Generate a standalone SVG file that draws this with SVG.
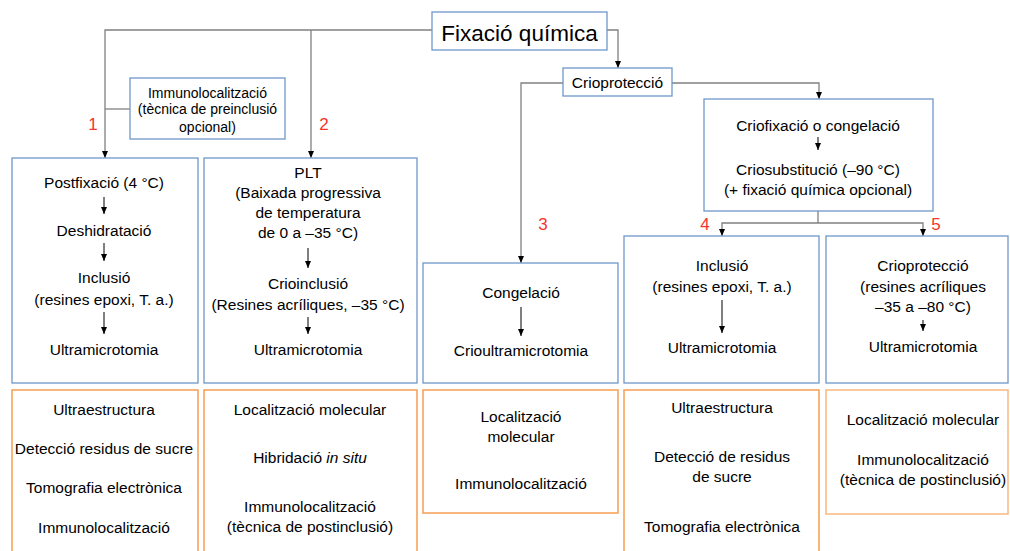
<svg xmlns="http://www.w3.org/2000/svg" width="1010" height="551" viewBox="0 0 1010 551">
<defs>
<marker id="ah" markerUnits="userSpaceOnUse" markerWidth="7" markerHeight="7" refX="7" refY="3.5" orient="auto">
<path d="M0,0.5 L7,3.5 L0,6.5 z" fill="#000"/>
</marker>
<style>
text{font-family:"Liberation Sans",Arial,sans-serif;font-size:15.5px;fill:#000;text-anchor:middle}
.blue{fill:#fff;stroke:#6F97C9;stroke-width:1.3}
.orange{fill:#fff;stroke:#F7A35C;stroke-width:1.6}
.orange2{fill:#fff;stroke:#F9BD87;stroke-width:1.6}
.con{fill:none;stroke:#808080;stroke-width:1.3}
.arr{fill:none;stroke:#000;stroke-width:1;marker-end:url(#ah)}
.num{fill:#F5352B;font-size:17px}
</style>
</defs>
<rect width="1010" height="551" fill="#fff"/>

<g id="connectors">
<polyline class="con" points="432,30 105,30 105,158" marker-end="url(#ah)"/>
<polyline class="con" points="311,30 311,158" marker-end="url(#ah)"/>
<line class="con" x1="130" y1="109" x2="105" y2="109"/>
<polyline class="con" points="607,30 618,30 618,68" marker-end="url(#ah)"/>
<polyline class="con" points="563,83 521,83 521,263" marker-end="url(#ah)"/>
<polyline class="con" points="672,83 819,83 819,99" marker-end="url(#ah)"/>
<line class="con" x1="818" y1="211" x2="818" y2="223"/>
<polyline class="con" points="818,223 923,223 923,236" marker-end="url(#ah)"/>
<polyline class="con" points="818,223 722,223 722,236" marker-end="url(#ah)"/>
</g>

<g id="fixacio">
<rect class="blue" x="432" y="12" width="175" height="38"/>
<text x="519.5" y="41" style="font-size:22.5px">Fixació química</text>
</g>

<g id="immuno-pre">
<rect class="blue" x="130" y="78" width="155" height="61"/>
<text x="207.5" y="98" style="font-size:14px">Immunolocalització</text>
<text x="207.5" y="114" style="font-size:14px">(tècnica de preinclusió</text>
<text x="207.5" y="132" style="font-size:14px">opcional)</text>
</g>

<g id="crioproteccio">
<rect class="blue" x="563" y="68" width="109" height="28"/>
<text x="617.5" y="88">Crioprotecció</text>
</g>

<g id="criofixacio">
<rect class="blue" x="704" y="99" width="229" height="112"/>
<text x="818" y="131">Criofixació o congelació</text>
<line class="arr" x1="818" y1="137" x2="818" y2="150"/>
<text x="818" y="175">Criosubstitució (–90 °C)</text>
<text x="818" y="195">(+ fixació química opcional)</text>
</g>

<g id="labels">
<text class="num" x="93" y="130">1</text>
<text class="num" x="324" y="130">2</text>
<text class="num" x="543" y="230">3</text>
<text class="num" x="705" y="230">4</text>
<text class="num" x="936" y="230">5</text>
</g>

<g id="proc1">
<rect class="blue" x="12" y="158" width="186" height="225"/>
<text x="104" y="188">Postfixació (4 °C)</text>
<line class="arr" x1="104" y1="197" x2="104" y2="214"/>
<text x="104" y="236">Deshidratació</text>
<line class="arr" x1="104" y1="243" x2="104" y2="261"/>
<text x="104" y="283">Inclusió</text>
<text x="104" y="305">(resines epoxi, T. a.)</text>
<line class="arr" x1="104" y1="312" x2="104" y2="334"/>
<text x="104" y="355">Ultramicrotomia</text>
</g>

<g id="proc2">
<rect class="blue" x="204" y="158" width="213" height="225"/>
<text x="308" y="178">PLT</text>
<text x="308" y="198">(Baixada progressiva</text>
<text x="308" y="218">de temperatura</text>
<text x="308" y="238">de 0 a –35 °C)</text>
<line class="arr" x1="308" y1="248" x2="308" y2="268"/>
<text x="308" y="289">Crioinclusió</text>
<text x="308" y="310">(Resines acríliques, –35 °C)</text>
<line class="arr" x1="308" y1="317" x2="308" y2="334"/>
<text x="308" y="355">Ultramicrotomia</text>
</g>

<g id="proc3">
<rect class="blue" x="423" y="263" width="195" height="120"/>
<text x="521" y="298">Congelació</text>
<line class="arr" x1="521" y1="307" x2="521" y2="336"/>
<text x="521" y="356">Crioultramicrotomia</text>
</g>

<g id="proc4">
<rect class="blue" x="624" y="236" width="195" height="147"/>
<text x="722" y="271">Inclusió</text>
<text x="722" y="292">(resines epoxi, T. a.)</text>
<line class="arr" x1="722" y1="300" x2="722" y2="333"/>
<text x="722" y="353">Ultramicrotomia</text>
</g>

<g id="proc5">
<rect class="blue" x="826" y="236" width="182" height="147"/>
<text x="923" y="271">Crioprotecció</text>
<text x="923" y="292">(resines acríliques</text>
<text x="923" y="312">–35 a –80 °C)</text>
<line class="arr" x1="923" y1="320" x2="923" y2="331"/>
<text x="923" y="352">Ultramicrotomia</text>
</g>

<g id="app1">
<rect class="orange" x="12" y="390" width="186" height="170"/>
<text x="104" y="415">Ultraestructura</text>
<text x="104" y="454">Detecció residus de sucre</text>
<text x="104" y="493">Tomografia electrònica</text>
<text x="104" y="533">Immunolocalització</text>
</g>

<g id="app2">
<rect class="orange" x="204" y="390" width="213" height="170"/>
<text x="310" y="415">Localització molecular</text>
<text x="310" y="463">Hibridació <tspan font-style="italic">in situ</tspan></text>
<text x="310" y="512">Immunolocalització</text>
<text x="310" y="532">(tècnica de postinclusió)</text>
</g>

<g id="app3">
<rect class="orange" x="423" y="390" width="195" height="123"/>
<text x="521" y="422">Localització</text>
<text x="521" y="442">molecular</text>
<text x="521" y="489">Immunolocalització</text>
</g>

<g id="app4">
<rect class="orange" x="624" y="390" width="195" height="170"/>
<text x="722" y="413">Ultraestructura</text>
<text x="722" y="462">Detecció de residus</text>
<text x="722" y="482">de sucre</text>
<text x="722" y="532">Tomografia electrònica</text>
</g>

<g id="app5">
<rect class="orange2" x="826" y="390" width="182" height="124"/>
<text x="923" y="425">Localització molecular</text>
<text x="923" y="465">Immunolocalització</text>
<text x="923" y="485">(tècnica de postinclusió)</text>
</g>
</svg>
